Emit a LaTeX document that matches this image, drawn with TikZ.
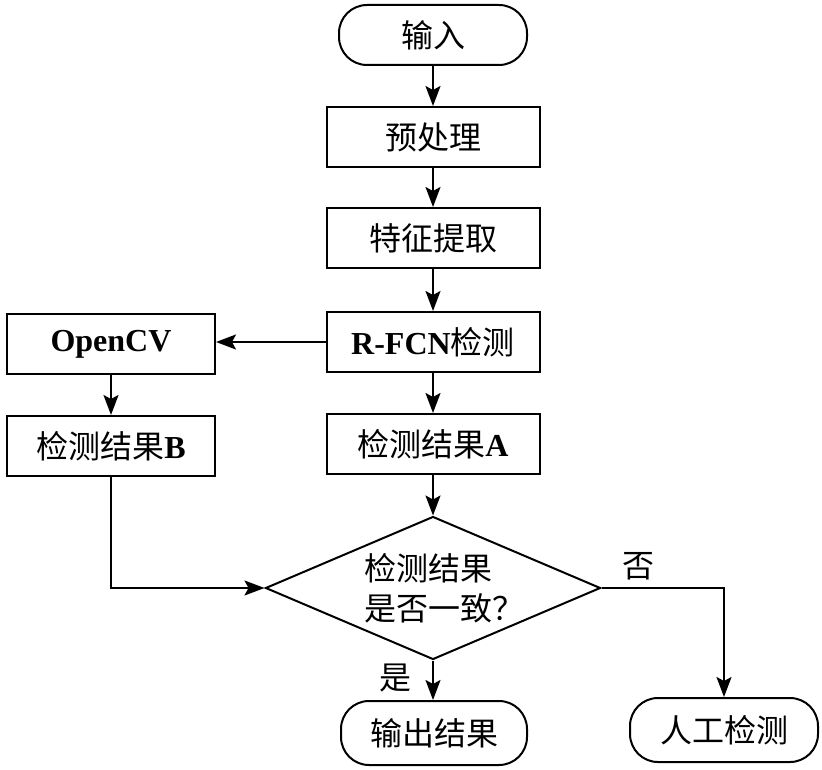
\documentclass[tikz,border=0pt]{standalone}
\usepackage{fontspec}
\setmainfont{Noto Sans CJK SC}
\newfontfamily\tnr{Liberation Serif}
\usetikzlibrary{arrows.meta, shapes.geometric}
\newcommand{\lat}[1]{{\tnr\bfseries #1}}
\tikzset{
    terminal/.style={draw, line width=2pt, rounded corners=28pt, minimum height=62pt, inner sep=0pt},
    procbox/.style={draw, line width=2pt, minimum width=213pt, minimum height=60pt, inner sep=0pt},
    decision/.style={draw, line width=2pt, diamond, minimum width=335pt, minimum height=143pt, inner sep=0pt},
    flow/.style={-{Stealth[length=20pt, width=15pt, inset=4pt]}, line width=2pt}
}

\begin{document}
\begin{tikzpicture}[x=1pt, y=-1pt, font=\fontsize{32}{40}\selectfont]
    \useasboundingbox (0,0) rectangle (822,770);

    % Hauptzweig
    \node[terminal, minimum width=188pt, minimum height=60pt] (input) at (433,35) {输入};
    \node[procbox] (prep) at (433,137) {预处理};
    \node[procbox] (feat) at (433,238) {特征提取};
    \node[procbox] (rfcn) at (433,342) {\lat{R-FCN}检测};
    \node[procbox] (resA) at (433,444) {检测结果\lat{A}};

    % Nebenzweig
    \node[procbox, minimum width=208pt] (opencv) at (111,344) {\lat{OpenCV}};
    \node[procbox, minimum width=208pt] (resB) at (111,446) {检测结果\lat{B}};

    % Entscheidung
    \node[decision, label={[align=left, xshift=11pt]center:检测结果\\是否一致？}] (check) at (433,588) {};
    \node[terminal, minimum width=186pt, minimum height=64pt] (output) at (434,733) {输出结果};
    \node[terminal, minimum width=188pt, minimum height=64pt] (manual) at (724,730) {人工检测};

    % Pfeile
    \draw[flow] (input) -- (prep);
    \draw[flow] (prep) -- (feat);
    \draw[flow] (feat) -- (rfcn);
    \draw[flow] (rfcn) -- (resA);
    \draw[flow] (resA) -- (check);
    \draw[flow] (rfcn.west) -- (rfcn.west -| opencv.east);
    \draw[flow] (opencv) -- (resB);
    \draw[flow] (resB.south) |- (check.west);
    \draw[flow] (check.south) -- (check.south |- output.north) node[pos=0.45, left=17pt]{是};
    \draw[flow] (check.east) -| (manual.north) node[pos=0.15, above=4pt]{否};
\end{tikzpicture}
\end{document}
